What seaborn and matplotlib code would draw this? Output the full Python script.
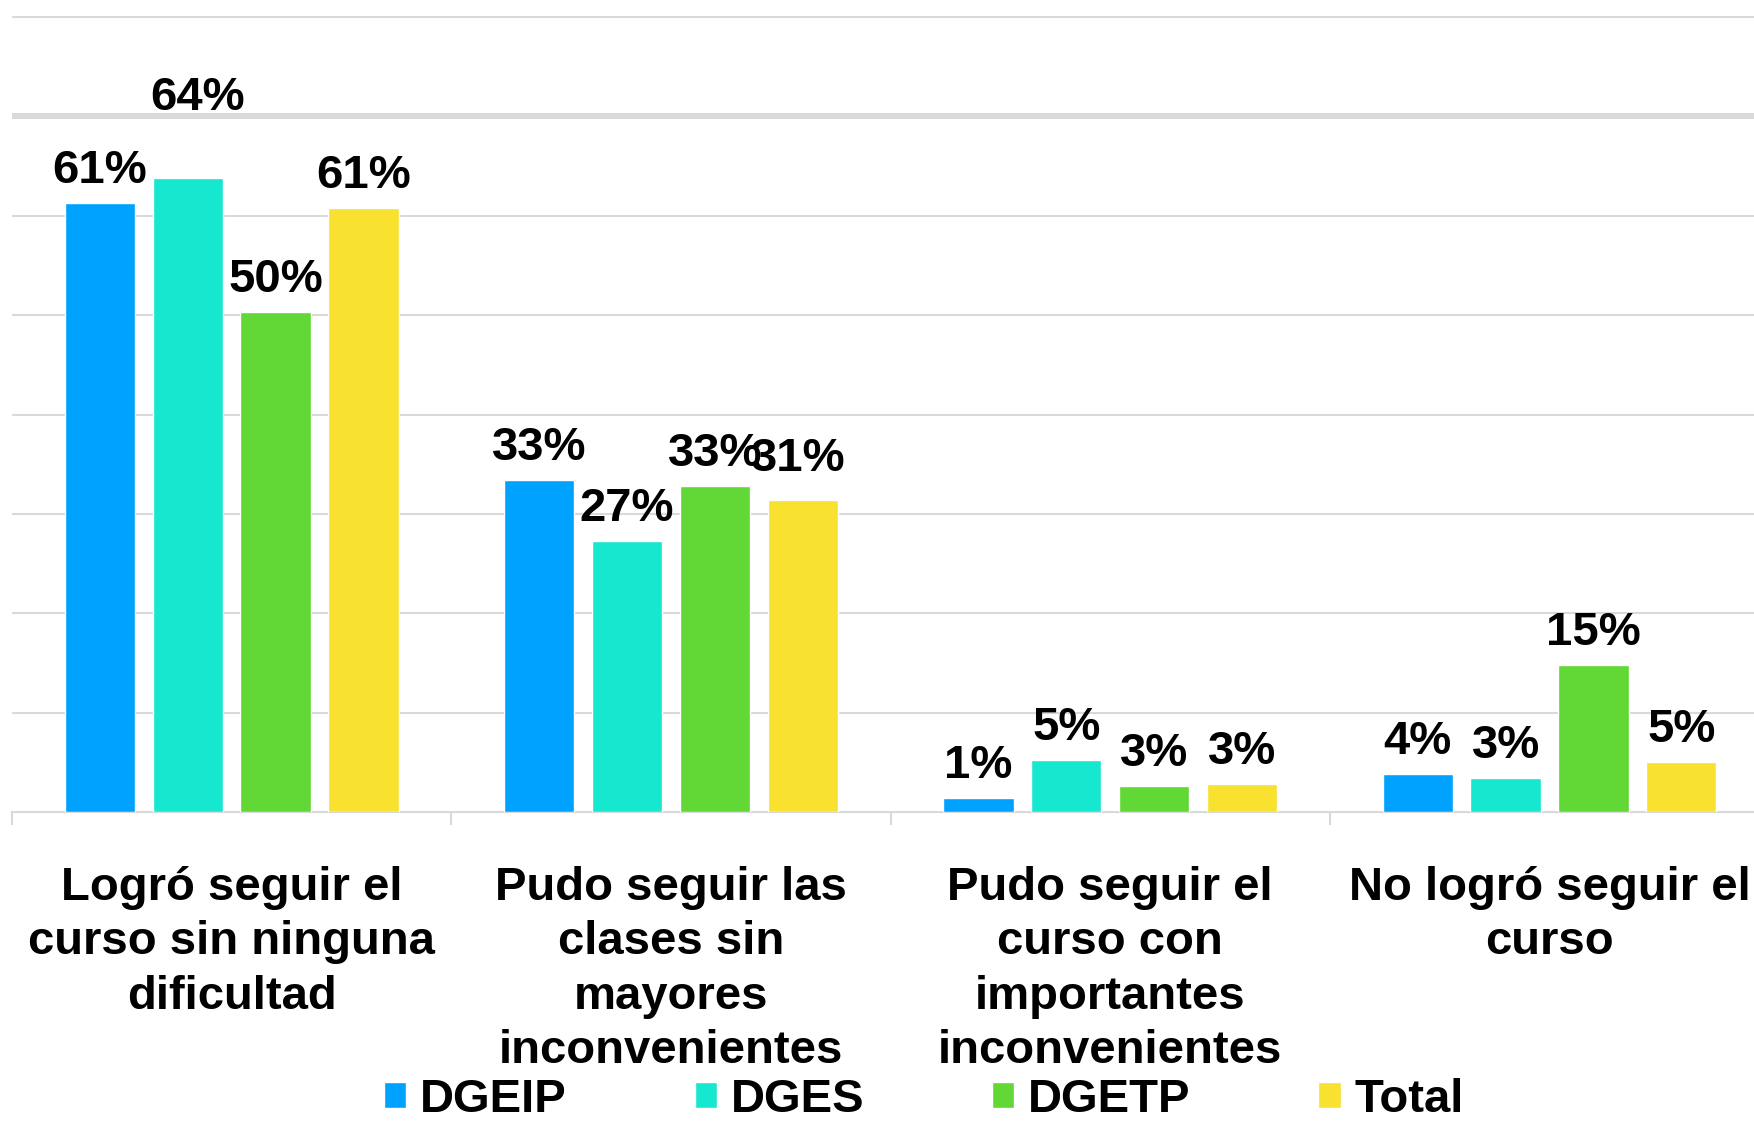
import pandas as pd
import seaborn as sns
import matplotlib.pyplot as plt
from matplotlib.ticker import MultipleLocator

# Data (% of students per group)
categories = [
    "Logró seguir el\ncurso sin ninguna\ndificultad",
    "Pudo seguir las\nclases sin\nmayores\ninconvenientes",
    "Pudo seguir el\ncurso con\nimportantes\ninconvenientes",
    "No logró seguir el\ncurso",
]
series = ["DGEIP", "DGES", "DGETP", "Total"]
dgeip = [61.3, 33.4, 1.4, 3.8]
dges = [63.8, 27.3, 5.2, 3.4]
dgetp = [50.3, 32.8, 2.6, 14.8]
total = [60.8, 31.4, 2.8, 5.0]

colors = ["#00A2FF", "#16E7CF", "#61D836", "#F8E12F"]

# Long format for seaborn
rows = []
for name, vals in zip(series, [dgeip, dges, dgetp, total]):
    for cat, v in zip(categories, vals):
        rows.append({"Categoria": cat, "Grupo": name, "Valor": v})
df = pd.DataFrame(rows)

sns.set_style("white")
plt.rcParams['font.family'] = ['Liberation Sans', 'DejaVu Sans']
plt.rcParams['font.weight'] = 'bold'
plt.rcParams['text.color'] = 'black'
plt.rcParams['xtick.color'] = 'black'

fig = plt.figure(figsize=(17.54, 11.21), dpi=100)
# axes placed in pixels: baseline at y=812, 80% at y=17, categories 439 px wide from x=12
px_per_pct = 795 / 80
ymax = 82
ax = fig.add_axes([12 / 1754, 309 / 1121, 4 * 439.3 / 1754, ymax * px_per_pct / 1121])

sns.barplot(data=df, x="Categoria", y="Valor", hue="Grupo", order=categories,
            hue_order=series, palette=colors, errorbar=None, width=0.8, gap=0.2,
            saturation=1, ax=ax, zorder=3)

ax.set_xlim(-0.5, 3.5)
ax.set_ylim(0, ymax)
ax.set_xlabel("")
ax.set_ylabel("")
ax.set_yticks(range(10, 81, 10))
ax.tick_params(axis='y', left=False, labelleft=False)
ax.grid(axis='y', color='#d9d9d9', linewidth=1.5, zorder=0)
ax.set_axisbelow(True)
# the 70% line is drawn heavier in the original
for gl, t in zip(ax.get_ygridlines(), ax.get_yticks()):
    if t == 70:
        gl.set_linewidth(4.3)

for s in ['top', 'right', 'left']:
    ax.spines[s].set_visible(False)
ax.spines['bottom'].set_color('#d9d9d9')
ax.spines['bottom'].set_linewidth(1.5)

# category separators as minor ticks
ax.xaxis.set_minor_locator(MultipleLocator(1, offset=0.5))
ax.tick_params(axis='x', which='minor', bottom=True, length=9.5, width=1.5, color='#d9d9d9')
ax.tick_params(axis='x', which='major', bottom=False, length=0, pad=39, labelsize=34,
               labelcolor='black')
for lab in ax.get_xticklabels():
    lab.set_linespacing(1.3)
    lab.set_fontweight('bold')

# value labels; a couple were nudged by hand in the original
nudges = {(0, 1): (7, 49), (1, 3): (-3, 21)}
for j, cont in enumerate(ax.containers):
    for i, bar in enumerate(cont):
        h = bar.get_height()
        dx, dy = nudges.get((i, j), (0, 14.4))
        ax.annotate(f"{round(h)}%", (bar.get_x() + bar.get_width() / 2, h),
                    xytext=(dx, dy), textcoords='offset points', ha='center',
                    va='baseline', fontsize=34, fontweight='bold', color='black', zorder=5)

handles, labels = ax.get_legend_handles_labels()
ax.get_legend().remove()
fig.legend(handles, labels, loc='center', bbox_to_anchor=(924 / 1754, 1 - 1100 / 1121),
           ncol=4, frameon=False, fontsize=34, handlelength=0.47, handleheight=0.47,
           handletextpad=0.3, columnspacing=2.7, borderpad=0, borderaxespad=0)

fig.savefig("out.png", dpi=100)
